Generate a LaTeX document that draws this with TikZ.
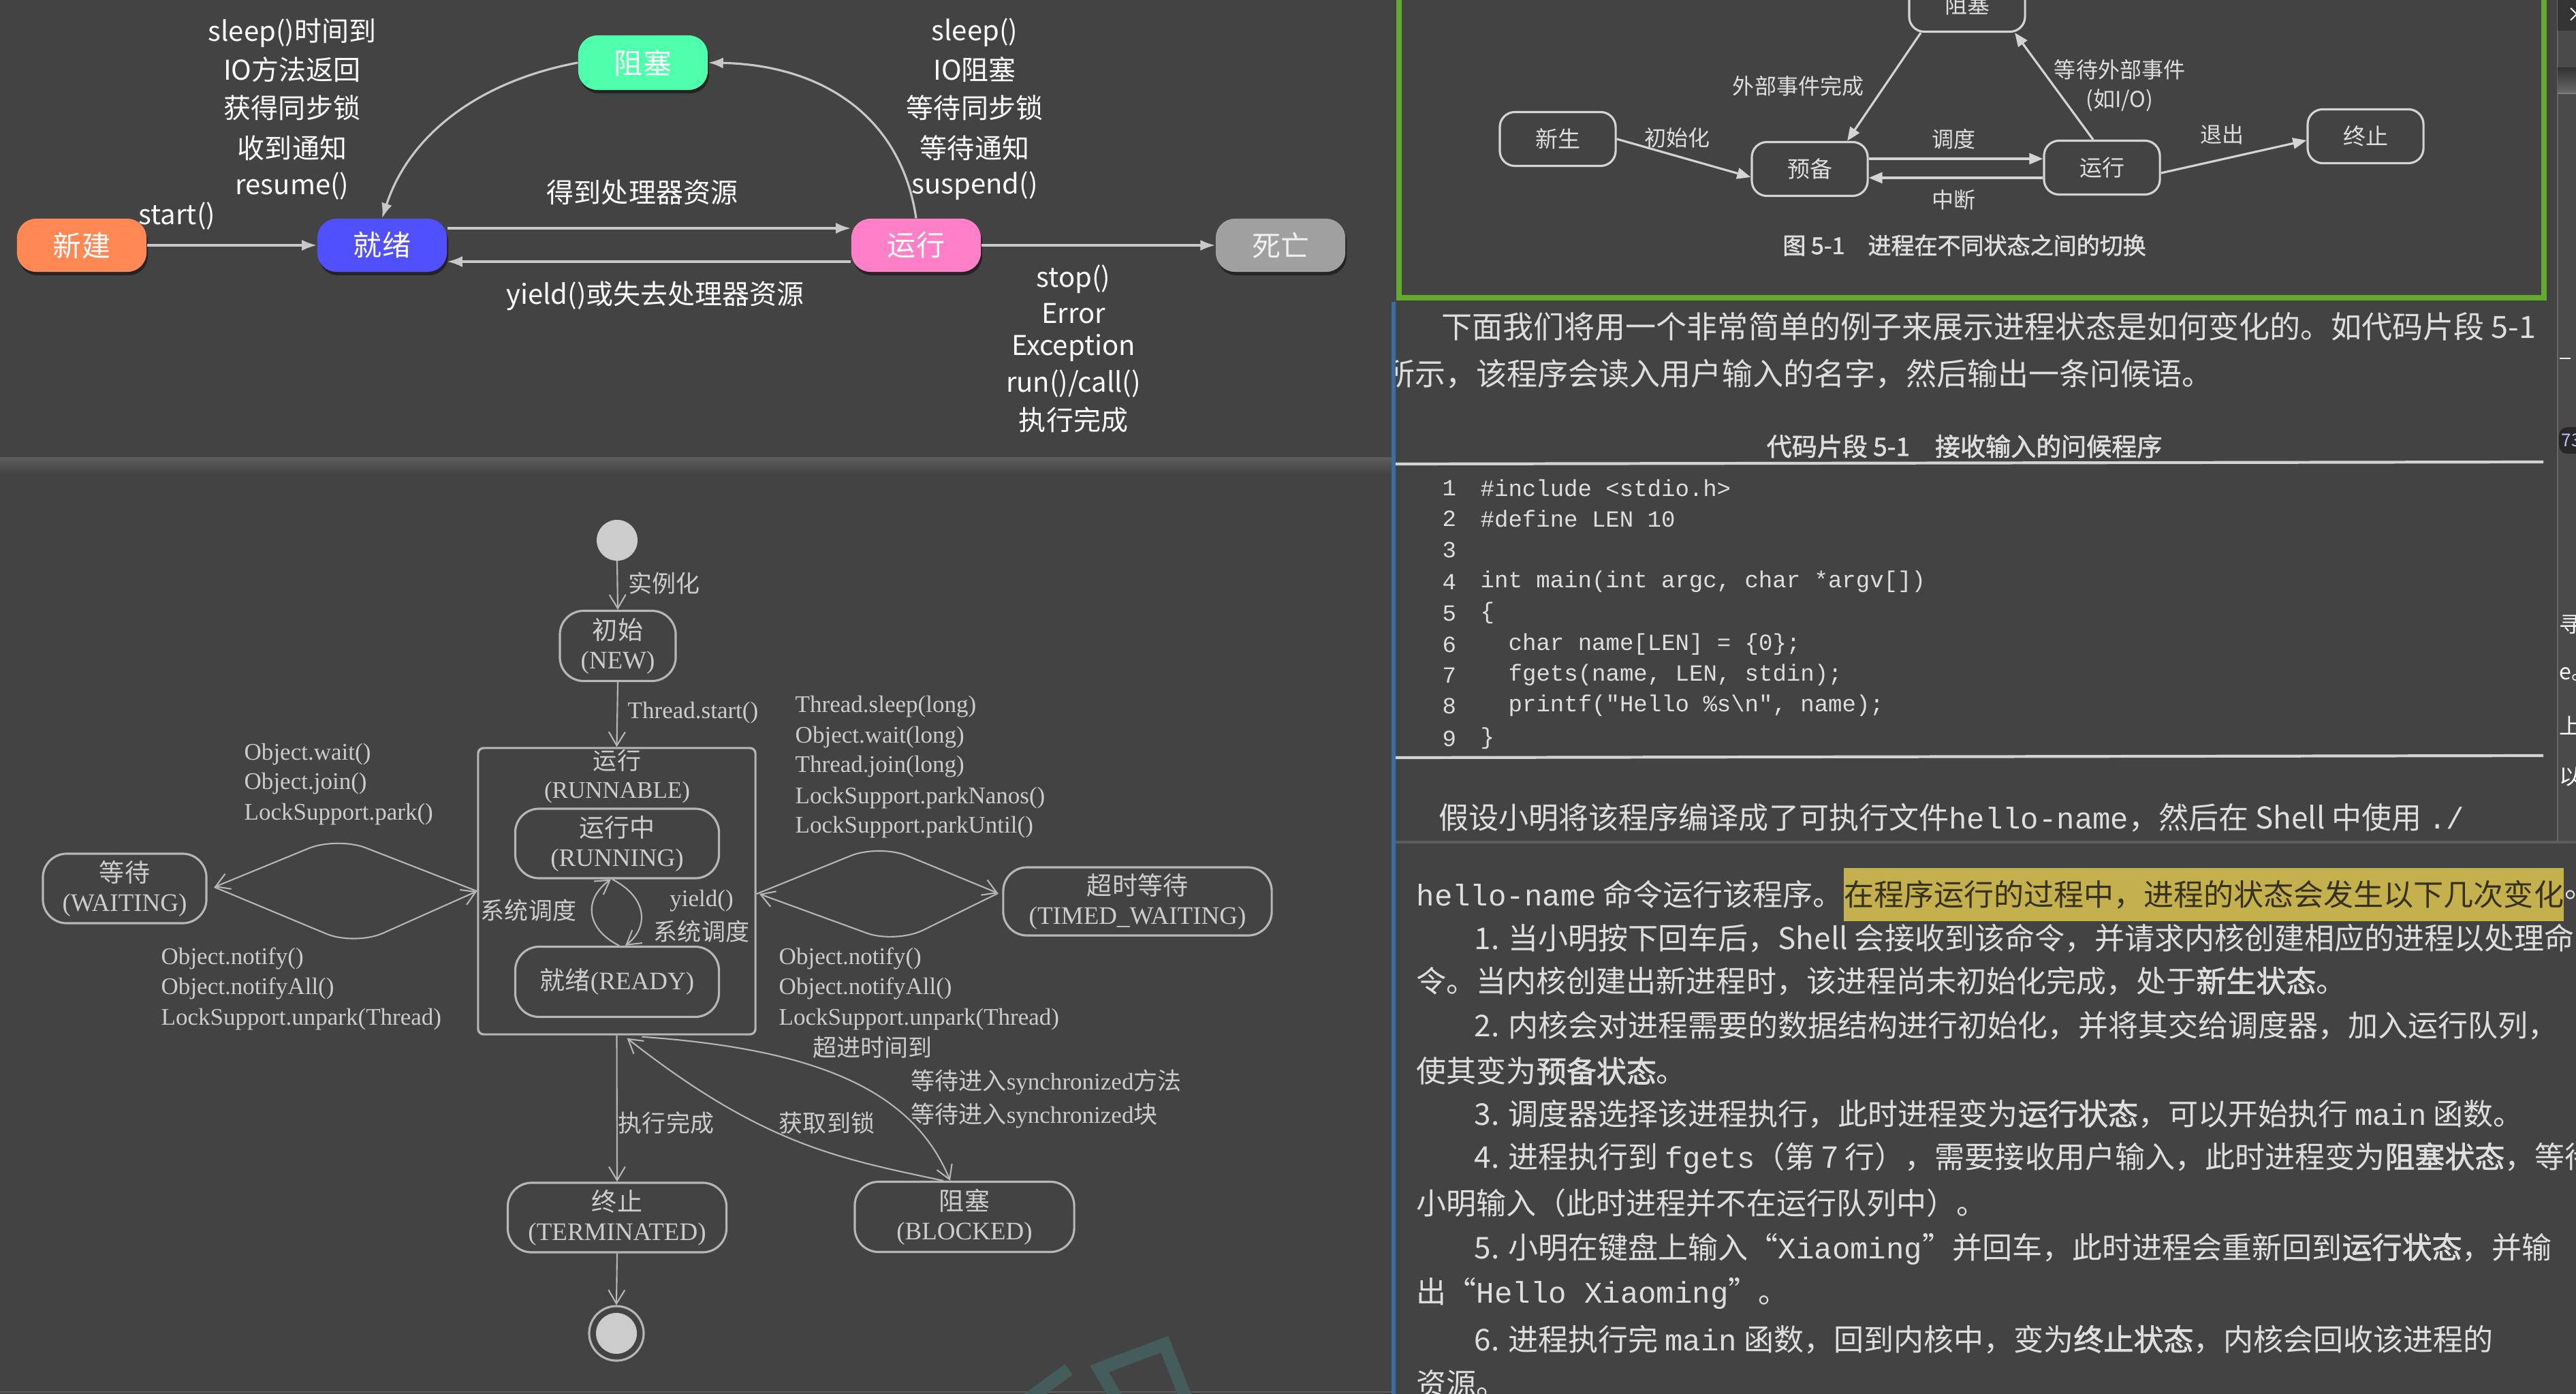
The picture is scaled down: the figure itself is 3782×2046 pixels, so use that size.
\documentclass[tikz,border=0pt]{standalone}
\usepackage{fontspec}
\setmainfont{Liberation Serif}
\setmonofont{Liberation Mono}
\newfontfamily\cjk{Noto Sans CJK SC}
\newfontfamily\cjkb{Noto Sans CJK SC}[FakeBold=1.6]
\usetikzlibrary{arrows.meta,shadows,calc}
\newcommand\fpx[1]{\fontsize{\fpeval{#1*0.28453}pt}{\fpeval{#1*0.33}pt}\selectfont}
\newcommand\zh[1]{{\cjk #1}}
\newcommand\hb[1]{{\cjkb #1}}
\definecolor{bgc}{RGB}{67,67,67}
\definecolor{sepc}{RGB}{92,92,92}
\definecolor{tlline}{RGB}{200,200,200}
\definecolor{cnew}{RGB}{255,136,85}
\definecolor{cready}{RGB}{80,80,255}
\definecolor{crun}{RGB}{255,128,200}
\definecolor{cdead}{RGB}{160,160,160}
\definecolor{cblock}{RGB}{80,255,172}
\definecolor{frline}{RGB}{212,212,212}
\definecolor{rtext}{RGB}{222,222,222}
\definecolor{jline}{RGB}{182,182,182}
\definecolor{jtext}{RGB}{204,204,204}
\definecolor{greenframe}{RGB}{98,170,48}
\definecolor{bluec}{RGB}{58,108,165}
\definecolor{hlc}{RGB}{196,176,76}
\definecolor{hltext}{RGB}{55,50,30}
\definecolor{wmc}{RGB}{68,92,92}
\definecolor{sbfill}{RGB}{74,74,74}
\definecolor{sbtop}{RGB}{52,52,52}
\definecolor{badge}{RGB}{40,40,40}
\tikzset{
  tlnode/.style={rectangle, rounded corners=0.28cm, minimum width=1.9cm, minimum height=0.78cm,
    text=white, font=\cjk\fpx{42}, inner sep=0pt,
    drop shadow={shadow xshift=0.02cm, shadow yshift=-0.05cm, opacity=0.45, fill=black}},
  tlarr/.style={draw=tlline, line width=0.9pt, -{Latex[length=0.22cm, width=0.16cm]}},
  tllab/.style={text=white, font=\cjk\fpx{40}, inner sep=0pt},
  frnode/.style={rectangle, rounded corners=0.22cm, draw=frline, line width=0.9pt,
    minimum width=1.7cm, minimum height=0.79cm, text=rtext, font=\cjk\fpx{33}, inner sep=0pt},
  frarr/.style={draw=frline, line width=0.9pt, -{Triangle[length=0.2cm, width=0.16cm]}},
  frlab/.style={text=rtext, font=\cjk\fpx{32}, inner sep=0pt},
  jnode/.style={rectangle, rounded corners=0.35cm, draw=jline, line width=0.9pt,
    text=jtext, font=\fpx{37}, align=center, inner sep=0pt},
  jarr/.style={draw=jline, line width=0.6pt, -{Straight Barb[length=0.2cm, width=0.24cm]}},
  jlab/.style={text=jtext, font=\fpx{35}, inner sep=0pt},
  jlabw/.style={jlab, anchor=west},
  body/.style={text=rtext, font=\cjk\fpx{44}, inner sep=0pt, anchor=west},
  codet/.style={text=rtext, font=\ttfamily\fpx{34}, inner sep=0pt, anchor=west},
  sbt/.style={text=white, font=\cjk\fpx{32}, inner sep=0pt, anchor=west}
}
\begin{document}
\begin{tikzpicture}[x=0.01cm, y=-0.01cm]
\useasboundingbox (0,0) rectangle (3782,2046);
\begin{scope}
\clip (0,0) rectangle (3782,2046);
\fill[bgc] (0,0) rectangle (3782,2046);

% ---------- separators on the left ----------
\shade[top color=sepc, bottom color=bgc] (0,672) rectangle (2043,696);
\draw[sepc, line width=0.6pt] (0,2043) -- (2043,2043);

% ---------- top-left diagram ----------
\node[tlnode, fill=cnew] (xinjian) at (120,360) {新建};
\node[tlnode, fill=cready] (jiuxu) at (561,360) {就绪};
\node[tlnode, fill=crun] (yunxing) at (1345,360) {运行};
\node[tlnode, fill=cdead, text=white!88!gray] (siwang) at (1880,360) {死亡};
\node[tlnode, fill=cblock, minimum height=0.8cm] (zuse) at (944,92) {阻塞};

\draw[tlarr] (xinjian) -- (jiuxu);
\draw[tlarr] ($(jiuxu.east)+(0,-25)$) -- ($(yunxing.west)+(0,-25)$);
\draw[tlarr] ($(yunxing.west)+(0,24)$) -- ($(jiuxu.east)+(0,24)$);
\draw[tlarr] (yunxing) -- (siwang);
\draw[tlarr] (yunxing.north) .. controls (1322,165) and (1200,95) .. (zuse.east);
\draw[tlarr] (zuse.west) .. controls (700,120) and (600,200) .. (jiuxu.north);

\node[tllab] (l1) at (429,48) {sleep()时间到};
\node[tllab] (l2) at (429,102) {IO方法返回};
\node[tllab] (l3) at (429,158) {获得同步锁};
\node[tllab] (l4) at (429,217) {收到通知};
\node[tllab] (l5) at (429,273) {resume()};
\node[tllab] (r1) at (1431,48) {sleep()};
\node[tllab] (r2) at (1431,102) {IO阻塞};
\node[tllab] (r3) at (1431,158) {等待同步锁};
\node[tllab] (r4) at (1431,217) {等待通知};
\node[tllab] (r5) at (1431,273) {suspend()};
\node[tllab] (g1) at (943,282) {得到处理器资源};
\node[tllab] (st) at (260,317) {start()};
\node[tllab] (yd) at (962,434) {yield()或失去处理器资源};
\node[tllab] (d1) at (1576,410) {stop()};
\node[tllab] (d2) at (1576,460) {Error};
\node[tllab] (d3) at (1576,511) {Exception};
\node[tllab] (d4) at (1576,563) {run()/call()};
\node[tllab] (d5) at (1576,616) {执行完成};

% ---------- watermark ----------
\draw[wmc, line width=0.19cm, line join=miter] (1650,2070) -- (1614,2009) -- (1710,1973) -- (1748,2070);
\draw[wmc, line width=0.19cm] (1569,2010) -- (1498,2062);

% ---------- Java thread diagram ----------
\fill[jtext] (906,793) circle (30);
\node[jnode] (jnew) at (907,948) [minimum width=1.70cm, minimum height=1.03cm] {\zh{初始}\\(NEW)};
\node[draw=jline, rounded corners=0.08cm, line width=0.9pt, minimum width=4.07cm, minimum height=4.2cm, inner sep=0pt] (rbox) at (905.5,1308) {};
\node[jlab] (rt1) at (906,1116) {\zh{运行}};
\node[jlab] (rt2) at (906,1163) {(RUNNABLE)};
\node[jnode, minimum width=2.99cm, minimum height=1.02cm] (running) at (906,1238) {\zh{运行中}\\(RUNNING)};
\node[jnode, minimum width=2.99cm, minimum height=1.03cm] (ready) at (906,1441) {\zh{就绪}(READY)};
\node[jnode, minimum width=2.40cm, minimum height=1.02cm] (waiting) at (183,1304) {\zh{等待}\\(WAITING)};
\node[jnode, minimum width=3.94cm, minimum height=1.00cm] (timed) at (1670,1323) {\zh{超时等待}\\(TIMED\_WAITING)};
\node[jnode, minimum width=3.21cm, minimum height=1.02cm] (term) at (906,1787) {\zh{终止}\\(TERMINATED)};
\node[jnode, minimum width=3.22cm, minimum height=1.03cm] (blocked) at (1416,1786) {\zh{阻塞}\\(BLOCKED)};
\node[circle, draw=jline, line width=0.9pt, minimum size=0.8cm, inner sep=0pt] (endc) at (905,1957) {};
\fill[jtext] (endc.center) circle (30);
\coordinate (startc) at (906,823);

\draw[jarr] (startc) -- (jnew.north);
\node[jlab] (inst) at (975,856) {\zh{实例化}};
\draw[jarr] (jnew.south) -- (rbox.north);
\node[jlabw] (tstart) at (921,1046) {Thread.start()};

% RUNNING <-> READY
\draw[jarr] ($(ready.north)+(3,0)$) .. controls (858,1362) and (858,1318) .. ($(running.south)+(-9,0)$);
\draw[jarr] ($(running.south)+(-7,0)$) .. controls (952,1318) and (952,1362) .. ($(ready.north)+(12,0)$);
\node[jlab] (sd1) at (776,1336) {\zh{系统调度}};
\node[jlab] (yl) at (1030,1322) {yield()};
\node[jlab] (sd2) at (1030,1367) {\zh{系统调度}};

% left diamond
\draw[jarr, rounded corners=0.45cm] (rbox.west) -- (495,1228) -- ($(waiting.east)+(10,-2)$);
\draw[jarr, rounded corners=0.45cm] ($(waiting.east)+(10,-2)$) -- (521,1388) -- (rbox.west);
% right diamond
\draw[jarr, rounded corners=0.45cm] ($(rbox.east)+(0,4)$) -- (1291,1239) -- ($(timed.west)+(-6,-12)$);
\draw[jarr, rounded corners=0.45cm] ($(timed.west)+(-6,-12)$) -- (1315,1385) -- ($(rbox.east)+(4,4)$);

\node[jlabw] at (358,1107) {Object.wait()};
\node[jlabw] at (358,1150) {Object.join()};
\node[jlabw] at (358,1195) {LockSupport.park()};
\node[jlabw] at (236,1407) {Object.notify()};
\node[jlabw] at (236,1451) {Object.notifyAll()};
\node[jlabw] at (236,1496) {LockSupport.unpark(Thread)};
\node[jlabw] at (1167,1037) {Thread.sleep(long)};
\node[jlabw] at (1167,1082) {Object.wait(long)};
\node[jlabw] at (1167,1125) {Thread.join(long)};
\node[jlabw] at (1167,1171) {LockSupport.parkNanos()};
\node[jlabw] at (1167,1214) {LockSupport.parkUntil()};
\node[jlabw] at (1143,1407) {Object.notify()};
\node[jlabw] at (1143,1451) {Object.notifyAll()};
\node[jlabw] at (1143,1496) {LockSupport.unpark(Thread)};

% bottom transitions
\draw[jarr] (rbox.south) -- (term.north);
\draw[jarr] (term.south) -- (endc.north);
\draw[jarr] ($(blocked.north)+(-31,0)$) .. controls (1230,1700) and (1120,1680) .. ($(rbox.south)+(15,4)$);
\draw[jarr] ($(rbox.south)+(37,2)$) .. controls (1200,1540) and (1340,1600) .. ($(blocked.north)+(-21,0)$);
\node[jlab] at (1281,1537) {\zh{超进时间到}};
\node[jlabw] at (1337,1588) {\zh{等待进入}synchronized\zh{方法}};
\node[jlabw] at (1337,1637) {\zh{等待进入}synchronized\zh{块}};
\node[jlab] at (978,1648) {\zh{执行完成}};
\node[jlab] at (1214,1648) {\zh{获取到锁}};

% ---------- Figure 5-1 (green frame) ----------
\draw[greenframe, line width=0.085cm] (2054,-30) rectangle (3735,437);
\node[frnode] (fzs) at (2888,7) {阻塞};
\node[frnode] (fxs) at (2287,204) {新生};
\node[frnode] (fyb) at (2657,248) {预备};
\node[frnode] (fyx) at (3086,246) {运行};
\node[frnode] (fzz) at (3473,200) {终止};
\draw[frarr] (fxs.east) -- ($(fyb.west)+(0,12)$);
\draw[frarr] ($(fyb.east)+(0,-15)$) -- ($(fyx.west)+(0,-13)$);
\draw[frarr] ($(fyx.west)+(0,15)$) -- ($(fyb.east)+(0,13)$);
\draw[frarr] ($(fyx.east)+(0,8)$) -- ($(fzz.west)+(0,6)$);
\draw[frarr] ($(fzs.south)+(-68,0)$) -- ($(fyb.north)+(55,0)$);
\draw[frarr] ($(fyx.north)+(-13,0)$) -- ($(fzs.south)+(70,0)$);
\node[frlab] at (2640,126) {外部事件完成};
\node[frlab] at (3112,102) {等待外部事件};
\node[frlab] at (3112,147) {(如I/O)};
\node[frlab] at (2462,202) {初始化};
\node[frlab] at (2868,204) {调度};
\node[frlab] at (2868,293) {中断};
\node[frlab] at (3262,197) {退出};
\node[frlab, font=\cjkb\fpx{34}] at (2884,360) {图 5-1\quad 进程在不同状态之间的切换};

% ---------- right panel ----------
\fill[bluec] (2043,443) rectangle (2049,2046);
\begin{scope}
\clip (2049,442) rectangle (3755,1235);
\node[body, font=\cjk\fpx{45}] at (2116,479) {下面我们将用一个非常简单的例子来展示进程状态是如何变化的。如代码片段 5-1};
\node[body, font=\cjk\fpx{45}] at (2032,549) {所示，该程序会读入用户输入的名字，然后输出一条问候语。};
\node[frlab, font=\cjkb\fpx{37}] at (2884,655) {代码片段 5-1\quad 接收输入的问候程序};
\draw[frline, line width=1.2pt] (2049,681) -- (3734,678);
\draw[frline, line width=1.2pt] (2049,1112) -- (3734,1109);
\foreach \n/\yy in {1/716,2/761,3/807,4/854,5/900,6/946,7/991,8/1036,9/1084}
  \node[codet] at (2117,\yy) {\n};
\node[codet] at (2173,716) {\#include <stdio.h>};
\node[codet] at (2173,761) {\#define LEN 10};
\node[codet] at (2173,854) {int main(int argc, char *argv[])};
\node[codet] at (2173,900) {\{};
\node[codet] at (2214,946) {char name[LEN] = \{0\};};
\node[codet] at (2214,991) {fgets(name, LEN, stdin);};
\node[codet] at (2214,1036) {printf("Hello \%s\textbackslash n", name);};
\node[codet] at (2173,1084) {\}};
\node[body] at (2112,1200) {假设小明将该程序编译成了可执行文件{\ttfamily hello-name}，然后在 Shell 中使用 {\ttfamily ./}};
\end{scope}

% sidebar
\fill[sbfill] (3755,0) rectangle (3782,1234);
\draw[black!60, line width=0.6pt] (3755,0) -- (3755,1234);
\fill[sbtop] (3755,0) rectangle (3782,45);
\node[sbt, font=\cjk\fpx{30}] at (3768,22) {×};
\shade[top color=black!30!sbfill, bottom color=gray!60!sbfill] (3755,100) rectangle (3782,137);
\draw[gray, line width=0.5pt] (3755,137) -- (3782,137);
\draw[white!85!gray, line width=0.6pt] (3758,526) -- (3774,526);
\fill[badge, rounded corners=0.12cm] (3757,627) rectangle (3800,666);
\node[sbt, font=\cjk\fpx{26}, text=blue!25!white] at (3760,646) {73};
\node[sbt] at (3757,917) {寻};
\node[sbt] at (3757,990) {e。};
\node[sbt] at (3757,1065) {上};
\node[sbt] at (3757,1140) {以};

% lower text panel
\draw[sepc, line width=1pt] (2049,1236) -- (3782,1236);
\begin{scope}
\clip (2049,1237) rectangle (3782,2046);
\node[body] (h1) at (2079,1313) {{\ttfamily hello-name} 命令运行该程序。};
\node[body, fill=hlc, text=hltext, inner ysep=5pt] (h2) at (h1.east) {在程序运行的过程中，进程的状态会发生以下几次变化};
\node[body] (h3) at (h2.east) {。};
\node[body] at (2164,1377) {1. 当小明按下回车后，Shell 会接收到该命令，并请求内核创建相应的进程以处理命};
\node[body] at (2079,1440) {令。当内核创建出新进程时，该进程尚未初始化完成，处于\hb{新生状态}。};
\node[body] at (2164,1505) {2. 内核会对进程需要的数据结构进行初始化，并将其交给调度器，加入运行队列，};
\node[body] at (2079,1572) {使其变为\hb{预备状态}。};
\node[body] at (2164,1635) {3. 调度器选择该进程执行，此时进程变为\hb{运行状态}，可以开始执行 {\ttfamily main} 函数。};
\node[body] at (2164,1700) {4. 进程执行到 {\ttfamily fgets}（第 7 行），需要接收用户输入，此时进程变为\hb{阻塞状态}，等待};
\node[body] at (2079,1766) {小明输入（此时进程并不在运行队列中）。};
\node[body] at (2164,1833) {5. 小明在键盘上输入“{\ttfamily Xiaoming}”并回车，此时进程会重新回到\hb{运行状态}，并输};
\node[body] at (2079,1898) {出“{\ttfamily Hello Xiaoming}”。};
\node[body] at (2164,1966) {6. 进程执行完 {\ttfamily main} 函数，回到内核中，变为\hb{终止状态}，内核会回收该进程的};
\node[body] at (2079,2031) {资源。};
\end{scope}

\end{scope}
\end{tikzpicture}
\end{document}
